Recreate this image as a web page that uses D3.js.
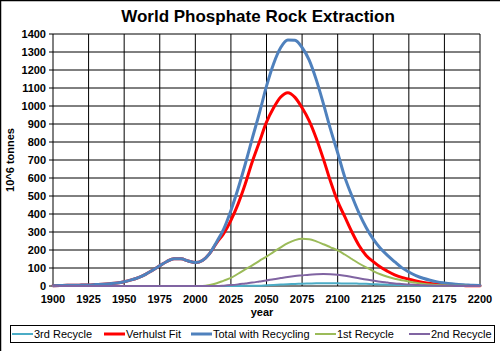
<!DOCTYPE html>
<html>
<head>
<meta charset="utf-8">
<script src="https://cdn.jsdelivr.net/npm/d3@7"></script>
<style>
  body { margin: 0; background: #fff; }
  svg { display: block; font-family: Arial, "Liberation Sans", sans-serif; }
</style>
</head>
<body>
<div id="chart"></div>
<script>
// years every 5 from 1900 to 2200
let years = [1900,1905,1910,1915,1920,1925,1930,1935,1940,1945,
             1950,1955,1960,1965,1970,1975,1980,1985,1990,1995,
             2000,2005,2010,2015,2020,2025,2030,2035,2040,2045,
             2050,2055,2060,2065,2070,2075,2080,2085,2090,2095,
             2100,2105,2110,2115,2120,2125,2130,2135,2140,2145,
             2150,2155,2160,2165,2170,2175,2180,2185,2190,2195,2200]

let thirdRecycle = [0,0,0,0,0,0,0,0,0,0,
                    0,0,0,0,0,0,0,0,0,0,
                    0,0,0,0,0,0,0,1,1,2,
                    4,6,8,10,11,13,14,15,15,15,
                    15,14,14,13,12,10,9,7,6,5,
                    4,3,2,2,1,1,0,0,0,0,0]

let verhulstFit = [2,3,4,4,5,6,8,10,13,17,
                   24,34,47,65,88,112,136,152,151,139,
                   130,142,180,240,292,365,455,565,690,800,
                   910,990,1050,1074,1048,990,918,820,705,580,
                   470,385,300,225,170,135,105,82,62,48,
                   38,28,20,14,10,7,5,3,2,1,1]

let totalWithRecycling = [2,3,4,4,5,6,8,10,13,17,
                          24,34,47,65,88,112,136,152,151,139,
                          130,142,180,245,318,420,540,675,820,960,
                          1110,1235,1325,1367,1365,1325,1255,1145,1012,870,
                          740,605,500,405,325,260,210,170,135,102,
                          78,58,43,32,23,17,12,8,6,4,3]

let firstRecycle = [0,0,0,0,0,0,0,0,0,0,
                    0,0,0,0,0,0,0,0,0,0,
                    0,0,5,15,30,45,68,92,115,140,
                    163,190,215,238,255,263,260,248,232,215,
                    198,175,150,125,103,83,65,51,40,32,
                    25,18,13,9,6,4,2,1,1,0,0]

let secondRecycle = [0,0,0,0,0,0,0,0,0,0,
                     0,0,0,0,0,0,0,0,0,0,
                     0,0,0,0,2,5,9,14,19,25,
                     31,38,44,50,55,59,63,65,66,65,
                     62,57,50,43,36,30,24,19,14,11,
                     8,6,4,3,2,1,1,0,0,0,0]

let yTicks = [0,100,200,300,400,500,600,700,800,900,1000,1100,1200,1300,1400]
let xTicks = [1900,1925,1950,1975,2000,2025,2050,2075,2100,2125,2150,2175,2200]

let series = [
    {name: "3rd Recycle", values: thirdRecycle, colour: "#4BACC6", width: 2},
    {name: "Verhulst Fit", values: verhulstFit, colour: "#FF0000", width: 3},
    {name: "Total with Recycling", values: totalWithRecycling, colour: "#4F81BD", width: 3},
    {name: "1st Recycle", values: firstRecycle, colour: "#9BBB59", width: 2},
    {name: "2nd Recycle", values: secondRecycle, colour: "#8064A2", width: 2}
]

let svgWidth = 500
let svgHeight = 351
let plot = {left: 53, right: 480, top: 34, bottom: 286}

let svg = d3.select("#chart")
    .append("svg")
        .attr("width", svgWidth)
        .attr("height", svgHeight)

// outer chart border (only top and left visible in the picture)
svg.append("rect")
    .attr("x", 0.5).attr("y", 0.5)
    .attr("width", svgWidth + 10).attr("height", svgHeight + 10)
    .attr("fill", "#fff")
    .attr("stroke", "#000")
    .attr("stroke-width", 1.5)

let x = d3.scaleLinear().domain([1900, 2200]).range([plot.left, plot.right])
let y = d3.scaleLinear().domain([0, 1400]).range([plot.bottom, plot.top])

// gridlines
svg.append("g")
    .selectAll("line")
    .data(yTicks)
    .join("line")
    .attr("x1", plot.left - 4).attr("x2", plot.right)
    .attr("y1", d => y(d)).attr("y2", d => y(d))
    .attr("stroke", "#000")
    .attr("stroke-width", 1)

svg.append("g")
    .selectAll("line")
    .data(xTicks)
    .join("line")
    .attr("x1", d => x(d)).attr("x2", d => x(d))
    .attr("y1", plot.top).attr("y2", plot.bottom)
    .attr("stroke", "#000")
    .attr("stroke-width", 1)

// tick labels
svg.append("g")
    .selectAll("text")
    .data(yTicks)
    .join("text")
    .attr("x", plot.left - 7)
    .attr("y", d => y(d) + 4)
    .attr("text-anchor", "end")
    .attr("font-size", 11)
    .attr("font-weight", "bold")
    .text(d => d)

svg.append("g")
    .selectAll("text")
    .data(xTicks)
    .join("text")
    .attr("x", d => x(d))
    .attr("y", 303)
    .attr("text-anchor", "middle")
    .attr("font-size", 11)
    .attr("font-weight", "bold")
    .text(d => d)

// lines
let line = d3.line()
    .x((d, i) => x(years[i]))
    .y(d => y(d))
    .curve(d3.curveMonotoneX)

svg.append("g")
    .selectAll("path")
    .data(series)
    .join("path")
    .attr("d", d => line(d.values))
    .attr("fill", "none")
    .attr("stroke", d => d.colour)
    .attr("stroke-width", d => d.width)
    .attr("stroke-linejoin", "round")
    .attr("stroke-linecap", "round")

// titles
svg.append("text")
    .attr("x", 258).attr("y", 22)
    .attr("text-anchor", "middle")
    .attr("font-size", 17)
    .attr("font-weight", "bold")
    .text("World Phosphate Rock Extraction")

svg.append("text")
    .attr("transform", "translate(14, 160) rotate(-90)")
    .attr("text-anchor", "middle")
    .attr("font-size", 11)
    .attr("font-weight", "bold")
    .text("10^6 tonnes")

svg.append("text")
    .attr("x", 262).attr("y", 316)
    .attr("text-anchor", "middle")
    .attr("font-size", 11)
    .attr("font-weight", "bold")
    .text("year")

// legend
let legendTextX = [34, 126, 213, 337, 431]
let legend = svg.append("g")

legend.append("rect")
    .attr("x", 10.5).attr("y", 325.5)
    .attr("width", 484).attr("height", 17)
    .attr("fill", "#fff")
    .attr("stroke", "#000")
    .attr("stroke-width", 1)

let items = legend.selectAll("g")
    .data(series)
    .join("g")
    .attr("transform", (d, i) => `translate(${legendTextX[i]}, 334)`)

items.append("line")
    .attr("x1", -22).attr("x2", -1)
    .attr("y1", 0).attr("y2", 0)
    .attr("stroke", d => d.colour)
    .attr("stroke-width", d => d.width)

items.append("text")
    .attr("x", 0).attr("y", 4)
    .attr("font-size", 11)
    .text(d => d.name)
</script>
</body>
</html>
